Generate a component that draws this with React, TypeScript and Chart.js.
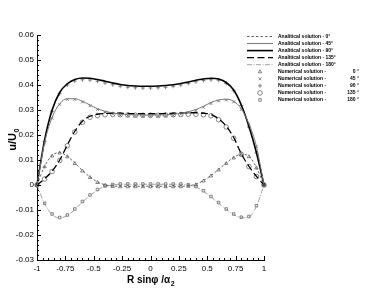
import React, { useEffect, useRef } from 'react';
import { Chart, registerables } from 'chart.js';
import { drawPoint } from 'chart.js/helpers';

Chart.register(...registerables);

// ---------- DATA ----------
const X_POS = [
  -1, -0.933, -0.867, -0.8, -0.733, -0.667, -0.6, -0.533, -0.467, -0.4, -0.333,
  -0.267, -0.2, -0.133, -0.067, 0, 0.067, 0.133, 0.2, 0.267, 0.333, 0.4, 0.467,
  0.533, 0.6, 0.667, 0.733, 0.8, 0.867, 0.933, 1,
];

const ANALYTIC_0 = [
  0, 0.0075, 0.0118, 0.013, 0.0115, 0.0088, 0.0058, 0.0032, 0.0012, 0.0001, -0.0004,
  -0.0005, -0.0005, -0.0005, -0.0005, -0.0005, -0.0005, -0.0005, -0.0005, -0.0005,
  -0.0003, 0.0003, 0.0018, 0.0038, 0.0062, 0.0088, 0.011, 0.0123, 0.0115, 0.007, 0,
];
const ANALYTIC_45 = [
  0, 0.017, 0.027, 0.0325, 0.0345, 0.0345, 0.0335, 0.032, 0.0305, 0.0295, 0.0288,
  0.0284, 0.0282, 0.0281, 0.028, 0.028, 0.028, 0.0281, 0.0283, 0.0287, 0.0293,
  0.0302, 0.0315, 0.033, 0.034, 0.0343, 0.0335, 0.0305, 0.0245, 0.0155, 0,
];
const ANALYTIC_90 = [
  0, 0.018, 0.03, 0.037, 0.0405, 0.0422, 0.0428, 0.0427, 0.0422, 0.0415, 0.0408,
  0.0402, 0.0398, 0.0396, 0.0395, 0.0395, 0.0396, 0.0398, 0.0401, 0.0406, 0.0412,
  0.0419, 0.0424, 0.0427, 0.0424, 0.041, 0.038, 0.032, 0.0235, 0.013, 0,
];
const ANALYTIC_135 = [
  0, 0.0025, 0.0055, 0.01, 0.016, 0.0215, 0.0255, 0.0275, 0.0283, 0.0286, 0.0287,
  0.0287, 0.0286, 0.0285, 0.0285, 0.0285, 0.0285, 0.0286, 0.0287, 0.0288, 0.0289,
  0.0289, 0.0287, 0.0282, 0.0265, 0.0235, 0.019, 0.0125, 0.0075, 0.0035, 0,
];
const ANALYTIC_180 = [
  0, -0.0075, -0.0118, -0.0132, -0.0122, -0.0098, -0.0068, -0.0042, -0.002, -0.0006,
  0.0001, 0.0003, 0.0003, 0.0003, 0.0003, 0.0003, 0.0003, 0.0003, 0.0003, 0.0003, 0,
  -0.0008, -0.0025, -0.0048, -0.0072, -0.0098, -0.0118, -0.0131, -0.0128, -0.0085, 0,
];

const NUMERIC_0 = [
  0, 0.0073, 0.0116, 0.0128, 0.0113, 0.0086, 0.0056, 0.003, 0.001, -0.0001, -0.0006,
  -0.0007, -0.0007, -0.0007, -0.0007, -0.0007, -0.0007, -0.0007, -0.0007, -0.0007,
  -0.0005, 0.0001, 0.0016, 0.0036, 0.006, 0.0086, 0.0108, 0.0121, 0.0113, 0.0068, 0,
];
const NUMERIC_45 = [
  0, 0.0168, 0.0267, 0.0322, 0.0342, 0.0342, 0.0332, 0.0317, 0.0302, 0.0291, 0.0284,
  0.0279, 0.0277, 0.0276, 0.0275, 0.0275, 0.0275, 0.0276, 0.0278, 0.0283, 0.0289,
  0.0298, 0.0311, 0.0326, 0.0336, 0.034, 0.0332, 0.0302, 0.0243, 0.0153, 0,
];
const NUMERIC_90 = [
  0, 0.0175, 0.0295, 0.0365, 0.04, 0.0416, 0.0421, 0.042, 0.0415, 0.0408, 0.0401,
  0.0395, 0.0391, 0.0389, 0.0388, 0.0388, 0.0389, 0.0391, 0.0395, 0.04, 0.0406,
  0.0413, 0.0418, 0.0421, 0.0419, 0.0406, 0.0377, 0.0318, 0.0232, 0.0128, 0,
];
const NUMERIC_135 = [
  0, 0.0024, 0.0054, 0.0098, 0.0157, 0.0212, 0.0251, 0.0271, 0.0278, 0.0281, 0.0282,
  0.0281, 0.028, 0.0279, 0.0279, 0.0279, 0.0279, 0.028, 0.0281, 0.0282, 0.0283,
  0.0283, 0.0281, 0.0277, 0.0261, 0.0232, 0.0187, 0.0123, 0.0074, 0.0034, 0,
];
const NUMERIC_180 = [
  0, -0.0073, -0.0116, -0.013, -0.012, -0.0096, -0.0066, -0.004, -0.0018, -0.0004,
  0.0002, 0.0004, 0.0004, 0.0004, 0.0004, 0.0004, 0.0004, 0.0004, 0.0004, 0.0004,
  0.0001, -0.0006, -0.0023, -0.0046, -0.007, -0.0096, -0.0116, -0.0129, -0.0126, -0.0083, 0,
];

const ANGLES = ['0', '45', '90', '135', '180'];
const X_TICKS = [-1, -0.75, -0.5, -0.25, 0, 0.25, 0.5, 0.75, 1];
const X_TICK_LABELS = ['-1', '-0.75', '-0.5', '-0.25', '0', '0.25', '0.5', '0.75', '1'];
const Y_TICKS = [-0.03, -0.02, -0.01, 0, 0.01, 0.02, 0.03, 0.04, 0.05, 0.06];
const Y_TICK_LABELS = ['-0.03', '-0.02', '-0.01', '0', '0.01', '0.02', '0.03', '0.04', '0.05', '0.06'];

const ANALYTIC = [ANALYTIC_0, ANALYTIC_45, ANALYTIC_90, ANALYTIC_135, ANALYTIC_180];
const NUMERIC = [NUMERIC_0, NUMERIC_45, NUMERIC_90, NUMERIC_135, NUMERIC_180];

// ---------- STYLES ----------
const FONT = '"Liberation Sans", Arial, sans-serif';
const LINE_STYLES = [
  { color: '#555', width: 0.9, dash: [2.5, 2] },
  { color: '#777', width: 1, dash: [] as number[] },
  { color: '#000', width: 1.6, dash: [] as number[] },
  { color: '#000', width: 1.3, dash: [7, 3.5] },
  { color: '#8a8a8a', width: 0.8, dash: [5, 1.5, 1, 1.5] },
];
const MARKERS = [
  { style: 'triangle', radius: 2 },
  { style: 'crossRot', radius: 2 },
  { style: 'cross', radius: 2 },
  { style: 'circle', radius: 2.3 },
  { style: 'rect', radius: 1.8 },
];

const ticksPlugin = {
  id: 'innerTicks',
  afterDraw(chart: any) {
    const { ctx, chartArea: a } = chart;
    const xs = chart.scales.x;
    const ys = chart.scales.y;
    ctx.save();
    ctx.strokeStyle = '#000';
    ctx.lineWidth = 1;
    ctx.beginPath();
    for (let k = 0; k <= 40; k++) {
      const px = Math.round(xs.getPixelForValue(-1 + k * 0.05)) + 0.5;
      const len = k % 5 === 0 ? 4 : 2;
      ctx.moveTo(px, a.bottom);
      ctx.lineTo(px, a.bottom - len);
    }
    for (let k = 0; k <= 45; k++) {
      const py = Math.round(ys.getPixelForValue(-0.03 + k * 0.002)) + 0.5;
      const len = k % 5 === 0 ? 4 : 2;
      ctx.moveTo(a.left, py);
      ctx.lineTo(a.left + len, py);
    }
    ctx.stroke();

    // axis titles
    ctx.fillStyle = '#000';
    ctx.textBaseline = 'alphabetic';
    const main = 'R sin\u03C6 /\u03B1';
    ctx.font = `bold 10px ${FONT}`;
    const w1 = ctx.measureText(main).width;
    ctx.font = `bold 7px ${FONT}`;
    const w2 = ctx.measureText('2').width;
    const cx = (a.left + a.right) / 2;
    const sx = cx - (w1 + w2) / 2;
    ctx.font = `bold 10px ${FONT}`;
    ctx.fillText(main, sx, 283);
    ctx.font = `bold 7px ${FONT}`;
    ctx.fillText('2', sx + w1 + 0.5, 286);

    ctx.save();
    ctx.translate(16, 140);
    ctx.rotate(-Math.PI / 2);
    ctx.font = `bold 11px ${FONT}`;
    const m1 = ctx.measureText('u/U').width;
    ctx.font = `bold 7px ${FONT}`;
    const m2 = ctx.measureText('0').width;
    const sy = -(m1 + m2) / 2;
    ctx.font = `bold 11px ${FONT}`;
    ctx.fillText('u/U', sy, 0);
    ctx.font = `bold 7px ${FONT}`;
    ctx.fillText('0', sy + m1 + 0.5, 3);
    ctx.restore();

    // legend
    const rowY = (i: number) => 36 + i * 7.05;
    ctx.font = `bold 5px ${FONT}`;
    ctx.textBaseline = 'middle';
    for (let i = 0; i < 5; i++) {
      const y = rowY(i) + 0.5;
      const s = LINE_STYLES[i];
      ctx.save();
      ctx.strokeStyle = s.color;
      ctx.lineWidth = s.width;
      ctx.setLineDash(s.dash);
      ctx.beginPath();
      ctx.moveTo(247, y);
      ctx.lineTo(273, y);
      ctx.stroke();
      ctx.restore();
      ctx.fillStyle = '#000';
      ctx.textAlign = 'left';
      ctx.fillText(`Analitical solution - ${ANGLES[i]}\u00B0`, 278, y);
    }
    for (let i = 0; i < 5; i++) {
      const y = rowY(i + 5) + 0.5;
      const m = MARKERS[i];
      ctx.save();
      ctx.strokeStyle = '#555';
      ctx.fillStyle = 'rgba(0,0,0,0)';
      ctx.lineWidth = 0.7;
      drawPoint(ctx, { pointStyle: m.style, radius: m.radius, rotation: 0, borderWidth: 0.7 } as any, 260, y);
      ctx.restore();
      ctx.fillStyle = '#000';
      ctx.textAlign = 'left';
      ctx.fillText('Numerical solution -', 278, y);
      ctx.textAlign = 'right';
      ctx.fillText(`${ANGLES[i]} \u00B0`, 359, y);
    }
    ctx.restore();
  },
};

export default function App() {
  const ref = useRef<HTMLCanvasElement | null>(null);

  useEffect(() => {
    if (!ref.current) return;
    const datasets: any[] = [];
    ANALYTIC.forEach((arr, i) => {
      const s = LINE_STYLES[i];
      datasets.push({
        label: `Analitical solution - ${ANGLES[i]}\u00B0`,
        data: X_POS.map((x, j) => ({ x, y: arr[j] })),
        showLine: true,
        borderColor: s.color,
        borderWidth: s.width,
        borderDash: s.dash,
        pointRadius: 0,
        cubicInterpolationMode: 'monotone',
        fill: false,
        clip: false,
      });
    });
    NUMERIC.forEach((arr, i) => {
      const m = MARKERS[i];
      datasets.push({
        label: `Numerical solution - ${ANGLES[i]} \u00B0`,
        data: X_POS.map((x, j) => ({ x, y: arr[j] })),
        showLine: false,
        pointStyle: m.style,
        pointRadius: m.radius,
        pointBorderWidth: 0.7,
        pointBorderColor: '#555',
        pointBackgroundColor: 'rgba(255,255,255,0)',
        clip: false,
      });
    });

    const chart = new Chart(ref.current, {
      type: 'scatter',
      data: { datasets },
      options: {
        responsive: false,
        animation: false,
        layout: { padding: { left: 0, top: 35, right: 110, bottom: 0 } },
        plugins: { legend: { display: false }, tooltip: { enabled: false } },
        scales: {
          x: {
            type: 'linear',
            min: -1,
            max: 1,
            afterBuildTicks: (s: any) => { s.ticks = X_TICKS.map((v) => ({ value: v })); },
            afterFit: (s: any) => { s.height = 31; },
            grid: { display: false, drawTicks: false },
            border: { display: true, color: '#000', width: 1 },
            ticks: {
              color: '#000',
              font: { size: 8, family: FONT },
              padding: 4,
              maxRotation: 0,
              autoSkip: false,
              callback: (_v: any, i: number) => X_TICK_LABELS[i],
            },
          },
          y: {
            type: 'linear',
            min: -0.03,
            max: 0.06,
            afterBuildTicks: (s: any) => { s.ticks = Y_TICKS.map((v) => ({ value: v })); },
            afterFit: (s: any) => { s.width = 37; },
            grid: { display: false, drawTicks: false },
            border: { display: true, color: '#000', width: 1 },
            ticks: {
              color: '#000',
              font: { size: 8, family: FONT },
              padding: 3,
              autoSkip: false,
              callback: (_v: any, i: number) => Y_TICK_LABELS[i],
            },
          },
        },
      },
      plugins: [ticksPlugin],
    } as any);
    return () => chart.destroy();
  }, []);

  return (
    <div style={{ position: 'fixed', left: 0, top: 0, width: 374, height: 291, background: '#fff' }}>
      <canvas ref={ref} width={374} height={291} style={{ display: 'block' }} />
    </div>
  );
}
